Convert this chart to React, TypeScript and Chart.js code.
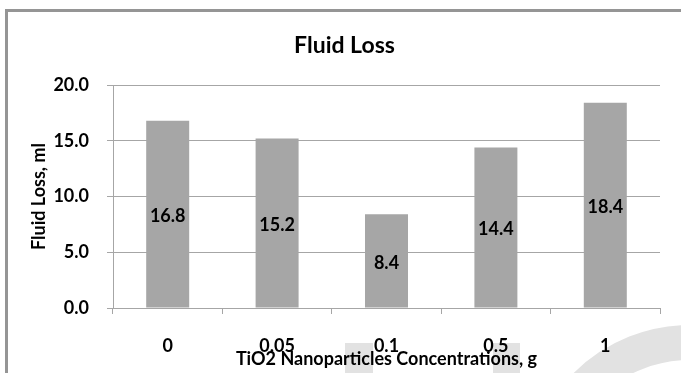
import React, { useEffect, useRef } from 'react';
import { Chart, registerables } from 'chart.js';

Chart.register(...registerables);

const categories = ['0', '0.05', '0.1', '0.5', '1'];
const fluidLoss = [16.8, 15.2, 8.4, 14.4, 18.4];
const yTickValues = [0, 5, 10, 15, 20];
const chartTitle = 'Fluid Loss';
const xTitle = 'TiO2 Nanoparticles Concentrations, g';
const yTitle = 'Fluid Loss, ml';

const FONT = 'Lato';
const labelFont = { family: FONT, size: 18, weight: 'bold' as const, lineHeight: 1.2 };

const barLabels = {
  id: 'barLabels',
  afterDatasetsDraw(chart: any) {
    const ctx = chart.ctx;
    const meta = chart.getDatasetMeta(0);
    ctx.save();
    ctx.font = `bold 18px ${FONT}`;
    ctx.fillStyle = '#000';
    ctx.textAlign = 'center';
    ctx.textBaseline = 'middle';
    meta.data.forEach((bar: any, i: number) => {
      const { x, y, base } = bar.getProps(['x', 'y', 'base'], true);
      ctx.fillText(fluidLoss[i].toFixed(1), x, (y + base) / 2 + 2);
    });
    ctx.restore();
  },
};

export default function App() {
  const ref = useRef<HTMLCanvasElement>(null);

  useEffect(() => {
    const chart = new Chart(ref.current as HTMLCanvasElement, {
      type: 'bar',
      data: {
        labels: categories,
        datasets: [
          {
            data: fluidLoss,
            backgroundColor: '#a6a6a6',
            categoryPercentage: 1,
            barPercentage: 0.393,
            yAxisID: 'y',
          },
        ],
      },
      options: {
        responsive: false,
        animation: false,
        devicePixelRatio: 1,
        layout: { padding: { left: 8, right: 0, top: 0, bottom: 0 } },
        plugins: {
          legend: { display: false },
          tooltip: { enabled: false },
          title: {
            display: true,
            text: chartTitle,
            color: '#000',
            font: { family: FONT, size: 23, weight: 'bold', lineHeight: 1.2 },
            padding: { top: 32, bottom: 25.4 },
          },
        },
        scales: {
          x: {
            grid: {
              display: true,
              drawOnChartArea: false,
              drawTicks: true,
              tickLength: 6,
              color: '#a6a6a6',
              offset: true,
            },
            border: { display: true, color: '#a6a6a6' },
            ticks: { font: labelFont, color: '#000', padding: 21, maxRotation: 0, autoSkip: false },
            title: {
              display: true,
              text: xTitle,
              color: '#000',
              font: labelFont,
              padding: { top: 0, bottom: 3 },
            },
            afterFit(s: any) {
              s.height = 65;
            },
          },
          y: {
            min: 0,
            max: 20,
            afterBuildTicks(s: any) {
              s.ticks = yTickValues.map((v) => ({ value: v }));
            },
            ticks: {
              font: labelFont,
              color: '#000',
              padding: 18,
              callback: (v: any) => Number(v).toFixed(1),
            },
            grid: { color: '#a6a6a6', tickLength: 6 },
            border: { display: true, color: '#a6a6a6' },
            title: {
              display: true,
              text: yTitle,
              color: '#000',
              font: labelFont,
              padding: { top: 20, bottom: 0 },
            },
            afterFit(s: any) {
              s.width = 105;
            },
          },
          y2: {
            position: 'right',
            display: true,
            grid: { display: false },
            border: { display: false },
            ticks: { display: false },
            afterFit(s: any) {
              s.width = 21;
            },
          },
        },
      },
      plugins: [barLabels],
    } as any);
    return () => chart.destroy();
  }, []);

  return (
    <div
      style={{
        position: 'absolute',
        left: 0,
        top: 0,
        width: 681,
        height: 373,
        overflow: 'hidden',
        background: '#fff',
      }}
    >
      <div style={{ position: 'absolute', left: 345, top: 343, width: 28, height: 40, background: '#e2e2e2' }} />
      <div style={{ position: 'absolute', left: 493, top: 343, width: 27, height: 40, background: '#e2e2e2' }} />
      <div
        style={{
          position: 'absolute',
          left: 525,
          top: 325,
          width: 330,
          height: 330,
          borderRadius: '50%',
          border: '35px solid #e2e2e2',
          boxSizing: 'border-box',
        }}
      />
      <div
        style={{
          position: 'absolute',
          left: 5,
          top: 9,
          width: 720,
          height: 420,
          border: '3px solid #959595',
          boxSizing: 'border-box',
        }}
      />
      <canvas
        ref={ref}
        width={681}
        height={373}
        style={{ position: 'absolute', left: 0, top: 0, width: 681, height: 373 }}
      />
    </div>
  );
}
